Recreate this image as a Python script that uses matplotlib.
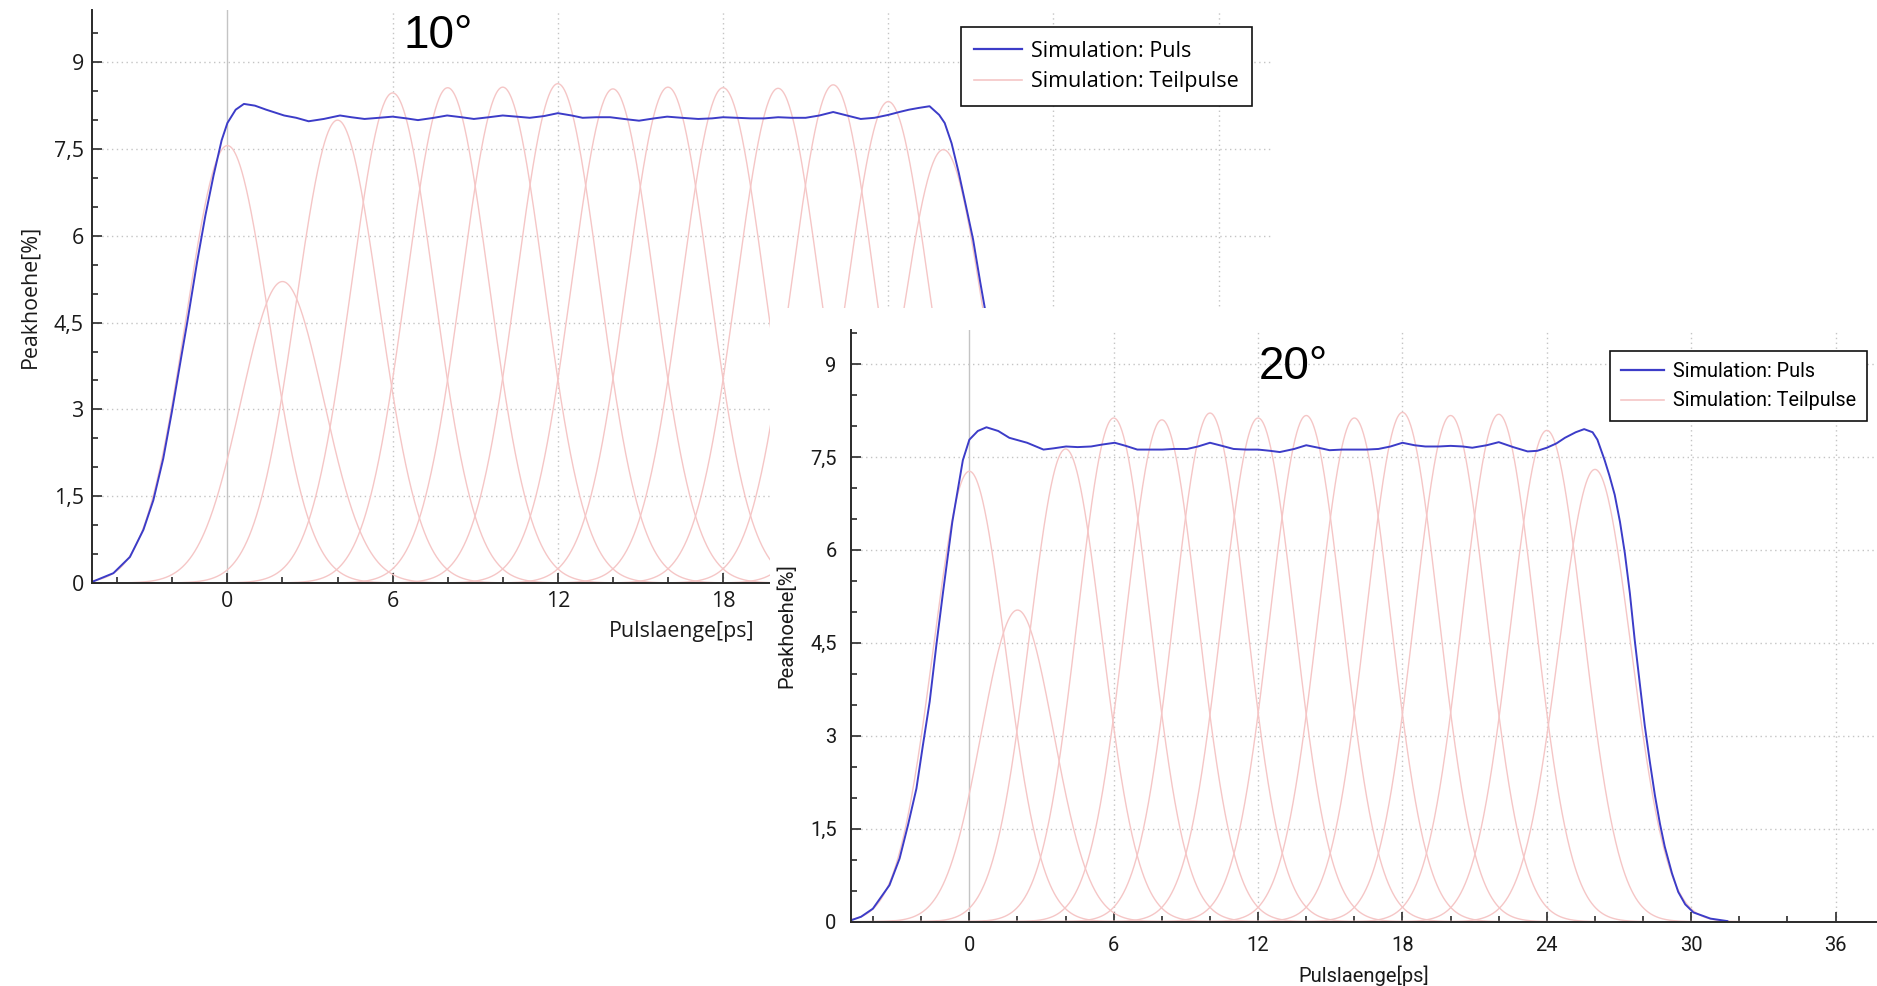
import numpy as np
import matplotlib
matplotlib.use("Agg")
import matplotlib.pyplot as plt
from matplotlib.patches import Rectangle
from matplotlib.ticker import MultipleLocator, FuncFormatter

# ---------------------------------------------------------------------------
# Data: 14 Teilpulse (2 ps spacing) and the resulting pulse, 10° and 20°
# ---------------------------------------------------------------------------

PULSE_CENTERS = [0, 2, 4, 6, 8, 10, 12, 14, 16, 18, 20, 22, 24, 26]   # ps
PULSE_SIGMA = 1.5                                                      # ps

PEAKS_10 = [7.56, 5.21, 8.00, 8.47, 8.56, 8.57, 8.63, 8.54, 8.57,
            8.56, 8.55, 8.61, 8.32, 7.49]
PEAKS_20 = [7.27, 5.03, 7.63, 8.13, 8.10, 8.21, 8.13, 8.17, 8.13,
            8.22, 8.17, 8.19, 7.93, 7.30]

PULS_T_10 = [-4.91, -4.14, -3.54, -3.05, -2.69, -2.33, -2.02, -1.66, -1.46,
             -1.10, -0.80, -0.50, -0.21, 0.00, 0.30, 0.60, 1.00, 1.41, 2.06,
             2.50, 2.95, 3.50, 4.09, 4.50, 4.98, 5.50, 6.00, 6.50, 6.92,
             7.50, 7.98, 8.50, 8.95, 9.50, 10.00, 10.50, 10.98, 11.50, 12.00,
             12.50, 12.90, 13.40, 13.90, 14.40, 14.95, 15.50, 15.97, 16.50,
             17.10, 17.60, 18.00, 18.50, 19.00, 19.50, 20.00, 20.50, 21.00,
             21.50, 22.00, 22.50, 23.00, 23.50, 24.00, 24.40, 24.75, 25.10,
             25.50, 25.85, 26.05, 26.30, 26.56, 26.82, 27.08, 27.34, 27.60,
             28.00, 28.50, 29.00, 29.50, 30.00, 31.00]
PULS_Y_10 = [0.02, 0.17, 0.45, 0.92, 1.43, 2.15, 2.95, 3.95, 4.50,
             5.55, 6.35, 7.05, 7.65, 7.95, 8.18, 8.28, 8.25, 8.18, 8.08,
             8.04, 7.98, 8.02, 8.08, 8.05, 8.02, 8.04, 8.06, 8.03, 8.00,
             8.04, 8.08, 8.05, 8.02, 8.05, 8.08, 8.06, 8.04, 8.07, 8.12,
             8.08, 8.04, 8.05, 8.05, 8.02, 7.99, 8.03, 8.06, 8.04,
             8.02, 8.03, 8.05, 8.04, 8.03, 8.03, 8.05, 8.04, 8.04,
             8.08, 8.14, 8.08, 8.02, 8.04, 8.09, 8.14, 8.18, 8.21,
             8.24, 8.09, 7.95, 7.60, 7.09, 6.52, 5.94, 5.20, 4.50,
             3.30, 2.00, 1.00, 0.45, 0.15, 0.02]

PULS_T_20 = [-4.94, -4.50, -4.01, -3.32, -2.90, -2.55, -2.20, -1.93, -1.65,
             -1.37, -1.10, -0.71, -0.27, 0.00, 0.35, 0.71, 1.20, 1.66, 2.40,
             3.08, 3.50, 4.02, 4.50, 5.06, 5.50, 6.04, 6.50, 6.98, 7.50,
             8.02, 8.50, 9.05, 9.50, 10.00, 10.50, 10.98, 11.50, 12.00,
             12.50, 12.90, 13.50, 14.00, 14.50, 14.97, 15.50, 16.00, 16.50,
             17.00, 17.50, 18.00, 18.50, 18.95, 19.50, 20.00, 20.50, 20.90,
             21.50, 22.00, 22.60, 23.20, 23.60, 24.00, 24.40, 24.75, 25.20,
             25.55, 25.90, 26.10, 26.40, 26.60, 26.82, 27.04, 27.24, 27.45,
             27.65, 27.86, 28.07, 28.28, 28.49, 28.70, 28.90, 29.20, 29.46,
             29.75, 30.09, 30.80, 31.50]
PULS_Y_20 = [0.02, 0.08, 0.21, 0.59, 1.02, 1.56, 2.15, 2.85, 3.55,
             4.47, 5.30, 6.45, 7.45, 7.78, 7.92, 7.98, 7.92, 7.81, 7.73,
             7.62, 7.64, 7.67, 7.66, 7.67, 7.70, 7.73, 7.68, 7.62, 7.62,
             7.62, 7.63, 7.63, 7.67, 7.73, 7.68, 7.63, 7.62, 7.62,
             7.60, 7.58, 7.63, 7.69, 7.65, 7.61, 7.62, 7.62, 7.62,
             7.63, 7.67, 7.73, 7.69, 7.67, 7.67, 7.68, 7.67, 7.65,
             7.69, 7.74, 7.66, 7.59, 7.60, 7.65, 7.72, 7.81, 7.90,
             7.95, 7.90, 7.78, 7.45, 7.20, 6.89, 6.45, 5.95, 5.30,
             4.55, 3.85, 3.16, 2.58, 2.04, 1.58, 1.21, 0.78, 0.48,
             0.28, 0.15, 0.05, 0.01]

# ---------------------------------------------------------------------------
# Style
# ---------------------------------------------------------------------------

BLUE = "#3c3cc8"
PINK = "#f5c6c6"
GRID = "#c4c4c4"
AXIS = "#2a2a2a"

W, H = 1877, 986
fig = plt.figure(figsize=(W / 100, H / 100), dpi=100)
fig.patch.set_facecolor("white")


def px_axes(left, top, right, bottom):
    """Add axes placed by pixel edges (origin top-left)."""
    return fig.add_axes([left / W, 1 - bottom / H,
                         (right - left) / W, (bottom - top) / H])


def comma(v, _pos=None):
    return f"{v:g}".replace(".", ",")


def draw_panel(ax, peaks, puls_t, puls_y, font, size, leg_size, angle_text,
               angle_xy, legend_xy, pad=6, labelpad=6, borderpad=0.6,
               labelspacing=0.55):
    t = np.linspace(-5.5, 38.5, 2000)
    for c, p in zip(PULSE_CENTERS, peaks):
        ax.plot(t, p * np.exp(-0.5 * ((t - c) / PULSE_SIGMA) ** 2),
                color=PINK, lw=1.0, zorder=2)
    ax.plot(puls_t, puls_y, color=BLUE, lw=1.4, zorder=3,
            solid_joinstyle="round")

    # grid: dotted at the major ticks, solid reference line at t = 0
    ax.xaxis.set_major_locator(MultipleLocator(6))
    ax.xaxis.set_minor_locator(MultipleLocator(2))
    ax.yaxis.set_major_locator(MultipleLocator(1.5))
    ax.yaxis.set_minor_locator(MultipleLocator(0.5))
    ax.yaxis.set_major_formatter(FuncFormatter(comma))
    ax.grid(True, which="major", color=GRID, linestyle=(0, (1, 2.5)),
            linewidth=1.0, zorder=0)
    for gl, v in zip(ax.xaxis.get_gridlines(), ax.get_xticks()):
        if abs(v) < 1e-9:
            gl.set_visible(False)
    ax.axvline(0, color=GRID, lw=1.0, zorder=1)

    for s in ("top", "right"):
        ax.spines[s].set_visible(False)
    for s in ("left", "bottom"):
        ax.spines[s].set_color(AXIS)
        ax.spines[s].set_linewidth(1.4)
        ax.spines[s].set_zorder(4)
    ax.tick_params(which="both", direction="in", colors=AXIS,
                   labelcolor="#1a1a1a", labelsize=size, width=1.2)
    ax.tick_params(which="major", length=7, pad=pad)
    ax.tick_params(which="minor", length=4)
    for lab in ax.get_xticklabels() + ax.get_yticklabels():
        lab.set_fontfamily(font)

    ax.set_xlabel("Pulslaenge[ps]", fontsize=size, family=font,
                  color="#1a1a1a", labelpad=labelpad)
    ax.set_ylabel("Peakhoehe[%]", fontsize=size, family=font,
                  color="#1a1a1a", labelpad=10)

    ax.text(angle_xy[0], angle_xy[1], angle_text, fontsize=33,
            family="Liberation Sans", ha="center", va="center", zorder=5)

    handles = [plt.Line2D([], [], color=BLUE, lw=1.6),
               plt.Line2D([], [], color=PINK, lw=1.2)]
    leg = ax.legend(handles, ["Simulation: Puls", "Simulation: Teilpulse"],
                    loc="upper left", bbox_to_anchor=legend_xy,
                    borderaxespad=0, fancybox=False, framealpha=1,
                    edgecolor="#111111",
                    prop={"family": font, "size": leg_size},
                    handlelength=2.2, handletextpad=0.45,
                    borderpad=borderpad, labelspacing=labelspacing)
    leg.get_frame().set_linewidth(1.2)
    leg.set_zorder(6)


# 10° panel (behind)
ax1 = px_axes(92.2, 9.6, 1271, 583)
ax1.set_xlim(-4.91, 37.9)
ax1.set_ylim(0, 9.91)
draw_panel(ax1, PEAKS_10, PULS_T_10, PULS_Y_10, "Open Sans", 15.4, 15.5,
           "10°", (7.65, 9.45), (0.737, 0.969), borderpad=0.62,
           labelspacing=0.45)
ax1.set_zorder(1)

# the 20° panel sits on a white sheet over the lower right
fig.add_artist(Rectangle((770 / W, 0), 1 - 770 / W, 1 - 308 / H,
                         transform=fig.transFigure, facecolor="white",
                         edgecolor="none", zorder=2))

ax2 = px_axes(850.5, 330, 1877, 921.7)
ax2.set_xlim(-4.94, 37.72)
ax2.set_ylim(0, 9.55)
draw_panel(ax2, PEAKS_20, PULS_T_20, PULS_Y_20, "Roboto", 14.5, 14.2,
           "20°", (13.45, 8.95), (0.740, 0.965), pad=10, labelpad=8,
           borderpad=0.55)
ax2.set_zorder(3)

fig.savefig("out.png", dpi=100, facecolor="white")
